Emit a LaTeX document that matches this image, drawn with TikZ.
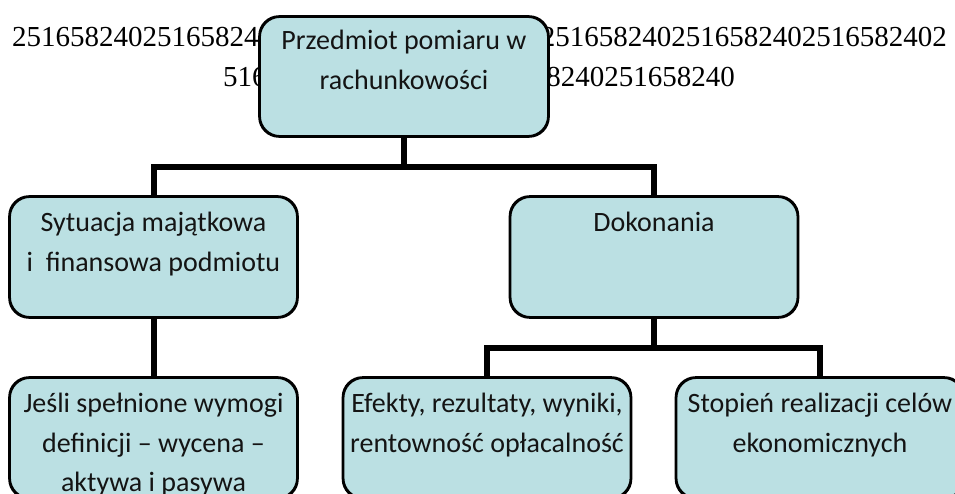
\documentclass[tikz,border=0pt]{standalone}
\usepackage{fontspec}
\setmainfont{Carlito}
\newfontfamily\digitfont{Liberation Serif}
\definecolor{boxfill}{RGB}{187,224,227}
\definecolor{boxtext}{RGB}{20,20,20}
\tikzset{
  boxshape/.style={draw=black, line width=1.8pt, fill=boxfill, rounded corners=20pt,
    minimum width=287pt, minimum height=120pt, inner sep=0pt},
  boxlabel/.style={anchor=north, inner sep=0pt, align=center, text=boxtext,
    font=\fontsize{28}{39.5}\selectfont},
  conn/.style={draw=black, line width=6pt},
  numtext/.style={inner sep=0pt, font=\digitfont\fontsize{29}{40}\selectfont}
}
\begin{document}
\begin{tikzpicture}[x=1pt,y=-1pt]
\useasboundingbox (0,0) rectangle (955,494);
\clip (0,0) rectangle (955,494);
\fill[white] (0,0) rectangle (955,494);
% background number text
\node[numtext, anchor=base west] (n1) at (12,47) {25165824025165824};
\node[numtext, anchor=base east] (n2) at (947,47) {2516582402516582402516582402};
\node[numtext, anchor=base west] (n3) at (223,87) {516};
\node[numtext, anchor=base east] (n4) at (735,87) {8240251658240};
% boxes
\node[boxshape, minimum width=288pt, minimum height=119pt] (top) at (404,76.5) {};
\node[boxshape] (ml) at (153.5,257) {};
\node[boxshape] (mr) at (654,257) {};
\node[boxshape] (bl) at (153.5,438) {};
\node[boxshape] (bm) at (487,438) {};
\node[boxshape] (br) at (820,438) {};
% junctions
\coordinate (j1) at (404,167);
\coordinate (j2) at (654,348);
% connectors
\draw[conn] (top.south) -- (j1);
\draw[conn] (ml.north) |- (j1) -| (mr.north);
\draw[conn] (ml.south) -- (bl.north);
\draw[conn] (mr.south) -- (j2);
\draw[conn] (bm.north) |- (j2) -| (br.north);
% redraw box borders on top of connector ends
\foreach \n in {top,ml,mr,bl,bm,br}{
  \draw[line width=1.8pt, rounded corners=20pt] (\n.north west) rectangle (\n.south east);
}
% labels
\node[boxlabel] (ttop) at ([yshift=-6pt]top.north) {\strut Przedmiot pomiaru w\\rachunkowości};
\node[boxlabel] (tml) at ([yshift=-8pt]ml.north) {\strut Sytuacja majątkowa\\i\ \ finansowa podmiotu};
\node[boxlabel] (tmr) at ([yshift=-8pt]mr.north) {\strut Dokonania};
\node[boxlabel] (tbl) at ([yshift=-8pt]bl.north) {\strut Jeśli spełnione wymogi\\definicji – wycena –\\aktywa i pasywa};
\node[boxlabel] (tbm) at ([yshift=-8pt]bm.north) {\strut Efekty, rezultaty, wyniki,\\rentowność opłacalność};
\node[boxlabel] (tbr) at ([yshift=-8pt]br.north) {\strut Stopień realizacji celów\\ekonomicznych};
\end{tikzpicture}
\end{document}
